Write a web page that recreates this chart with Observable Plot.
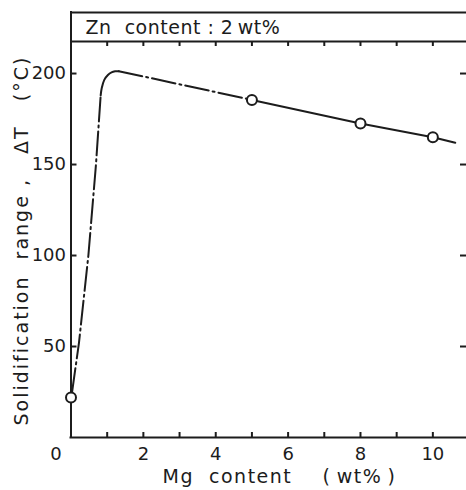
<!DOCTYPE html>
<html><head><meta charset="utf-8">
<script src="https://cdn.jsdelivr.net/npm/d3@7"></script>
<script src="https://cdn.jsdelivr.net/npm/@observablehq/plot@0.6"></script>
<style>html,body{margin:0;padding:0;background:#fff;overflow:hidden}svg{display:block}</style>
</head><body><div id="chart"></div>
<script>
// Measured points (circles)
const mgPoints = [0, 5, 8, 10];
const dTPoints = [22, 185.5, 172.5, 165];
// Dash-dot rising branch
const riseX = [0.03, 0.22, 0.48, 0.69, 0.82];
const riseY = [25, 52, 100, 150, 188];
// Solid rounded knee
const arcX = [0.82, 0.85, 0.92, 1.02, 1.12, 1.22, 1.32];
const arcY = [188, 192, 196.5, 199.2, 200.6, 201.2, 201.3];
// Dash-dot upper branch
const upperX = [1.32, 5];
const upperY = [201.3, 185.5];
// Solid measured branch
const solidX = [5, 8, 10, 10.62];
const solidY = [185.5, 172.5, 165, 162];
// Axes
const xTickValues = [1, 2, 3, 4, 5, 6, 7, 8, 9, 10];
const xTickLabels = [2, 4, 6, 8, 10];
const xOriginLabel = [0];
const yTickValues = [50, 100, 150, 200];
const xDomain = [0, 10.93];
const yDomain = [0, 217.6];
const headerText = "Zn\u00a0\u00a0content\u00a0:\u00a02\u2009wt%";
const xTitle = "Mg\u00a0\u00a0content\u00a0\u00a0\u00a0\u00a0(\u2009wt%\u2009)";
const yTitle = "Solidification\u00a0\u00a0range\u00a0,\u00a0\u00a0\u00a0\u0394T\u00a0\u00a0\u00a0(\u00b0C)";

const W = 466, H = 490, mL = 70.5, mR = 0, mT = 41, mB = 53;
const pw = W - mL - mR, ph = H - mT - mB;
const ink = "#1c1c1c";
const dash = "24,4,2,4";
const line = (xs, ys) => xs.map((x, i) => ({x, y: ys[i]}));

const chart = Plot.plot({
  width: W, height: H,
  marginLeft: mL, marginRight: mR, marginTop: mT, marginBottom: mB,
  x: {domain: xDomain, axis: null},
  y: {domain: yDomain, axis: null},
  style: {fontFamily: "DejaVu Sans", fontSize: "18px", color: ink, background: "#fff", overflow: "hidden"},
  marks: [
    // frame pieces
    Plot.tickX([0], {x: d => d, stroke: ink, strokeWidth: 2, insetTop: -29, strokeLinecap: "square"}),
    Plot.ruleY([0], {stroke: ink, strokeWidth: 2, strokeLinecap: "square"}),
    Plot.ruleY([yDomain[1]], {stroke: ink, strokeWidth: 2}),
    Plot.ruleY([yDomain[1]], {stroke: ink, strokeWidth: 2, dy: -29}),
    // inward ticks
    Plot.tickX(xTickValues, {x: d => d, stroke: ink, strokeWidth: 2, insetTop: ph - 5}),
    Plot.tickX(xTickValues, {x: d => d, stroke: ink, strokeWidth: 2, insetBottom: ph - 5}),
    Plot.tickY(yTickValues, {y: d => d, stroke: ink, strokeWidth: 2, insetRight: pw - 6}),
    Plot.tickY(yTickValues, {y: d => d, stroke: ink, strokeWidth: 2, insetLeft: pw - 6}),
    // tick labels
    Plot.text(xTickLabels, {x: d => d, frameAnchor: "bottom", dy: 17, lineAnchor: "middle", fill: ink, fontSize: 18}),
    Plot.text(xOriginLabel, {x: d => d, text: d => String(d), frameAnchor: "bottom", dx: -15, dy: 17, lineAnchor: "middle", fill: ink, fontSize: 18}),
    Plot.text(yTickValues, {y: d => d, frameAnchor: "left", dx: -5, textAnchor: "end", lineAnchor: "middle", fill: ink, fontSize: 18}),
    // titles
    Plot.text([headerText], {frameAnchor: "top-left", dx: 14.5, dy: -13.5, textAnchor: "start", lineAnchor: "middle", fill: ink, fontSize: 19}),
    Plot.text([xTitle], {frameAnchor: "bottom-left", dx: 91.5, dy: 39, textAnchor: "start", lineAnchor: "middle", fill: ink, fontSize: 19}),
    Plot.text([yTitle], {frameAnchor: "bottom-left", dx: -49.5, dy: -12, rotate: -90, textAnchor: "start", lineAnchor: "middle", fill: ink, fontSize: 19}),
    // data curves
    Plot.line(line(riseX, riseY), {x: "x", y: "y", stroke: ink, strokeWidth: 2, strokeDasharray: dash}),
    Plot.line(line(arcX, arcY), {x: "x", y: "y", stroke: ink, strokeWidth: 2, curve: "catmull-rom"}),
    Plot.line(line(upperX, upperY), {x: "x", y: "y", stroke: ink, strokeWidth: 2, strokeDasharray: dash}),
    Plot.line(line(solidX, solidY), {x: "x", y: "y", stroke: ink, strokeWidth: 2}),
    Plot.dot(line(mgPoints, dTPoints), {x: "x", y: "y", r: 5, stroke: ink, strokeWidth: 2, fill: "#fff"})
  ]
});
const sel = d3.select(chart).selectAll("text");
sel.filter(function () { return this.textContent === yTitle; }).attr("letter-spacing", "2px");
sel.filter(function () { return this.textContent === xTitle; }).attr("letter-spacing", "1.5px");
sel.filter(function () { return this.textContent === headerText; }).attr("letter-spacing", "0.5px");
document.getElementById("chart").appendChild(chart);
</script>
</body></html>
